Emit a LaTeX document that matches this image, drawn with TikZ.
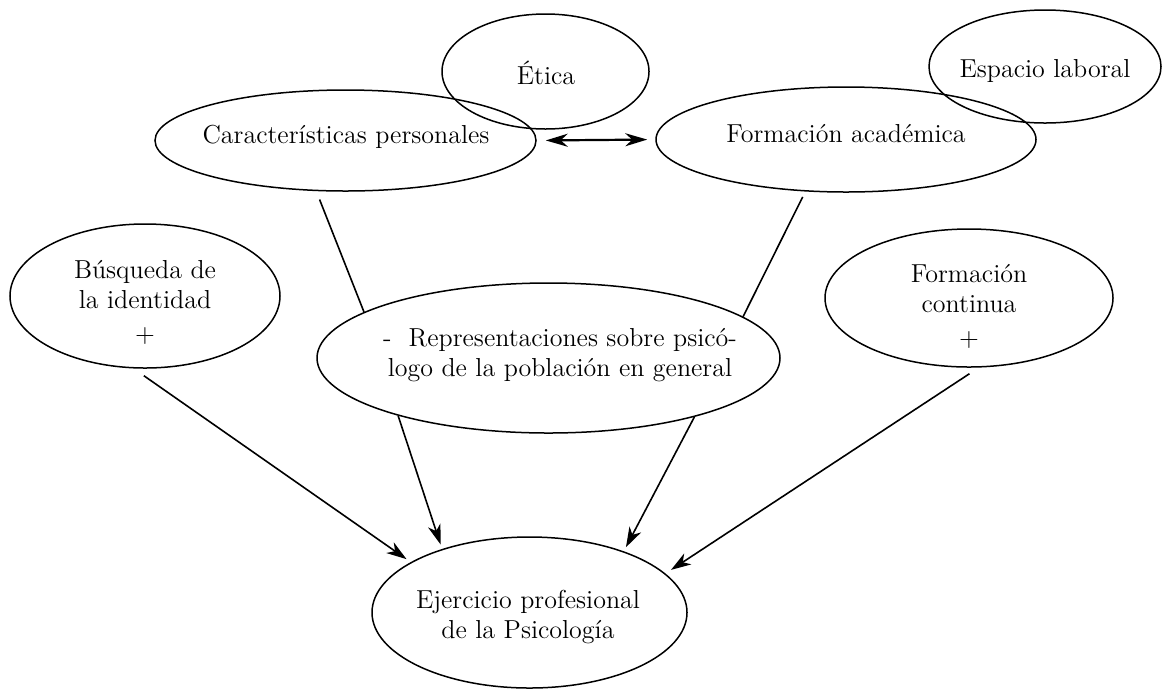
\documentclass[tikz,border=0pt]{standalone}
\usepackage{fontspec}
\usetikzlibrary{arrows.meta,shapes.geometric}
\begin{document}
\begin{tikzpicture}[x=0.5pt,y=-0.5pt,
  ell/.style 2 args={ellipse,draw,line width=0.75pt,inner sep=0pt,minimum width=#1pt,minimum height=#2pt},
  lbl/.style={align=center,inner sep=0pt,font=\fontsize{13}{15}\selectfont},
  link/.style={line width=0.8pt},
  arr/.style={line width=0.8pt,-{Stealth[length=10pt,width=6.5pt,inset=3pt]}},
  dbl/.style={line width=1.1pt,{Stealth[length=11pt,width=6.5pt,inset=3.5pt]}-{Stealth[length=11pt,width=6.5pt,inset=3.5pt]}}]
\useasboundingbox (0,0) rectangle (1165,692);
\fill[white] (0,0) rectangle (1165,692);
% ellipses (minimum width/height in pt = half of pixel size)
\node[ell={103.5}{57.5}] (eti) at (545.5,71.5) {};
\node[ell={116}{56.5}] (esp) at (1045,66.5) {};
\node[ell={190.5}{50.5}] (car) at (345.5,140.5) {};
\node[ell={190}{52.5}] (for) at (846,139.5) {};
\node[ell={135}{72}] (bus) at (145,296) {};
\node[ell={231.5}{75}] (rep) at (548.5,358) {};
\node[ell={144}{69}] (con) at (969,298) {};
\node[ell={157.5}{75.5}] (eje) at (529.5,612.5) {};
% texts
\node[lbl] (etit) at (546,73) {Ética};
\node[lbl] (espt) at (1045,71) {Espacio laboral};
\node[lbl] (cart) at (346,137) {Características personales};
\node[lbl] (fort) at (846,134) {Formación académica};
\node[lbl] (bust) at (145,302) {Búsqueda de\\la identidad\\[2pt]+};
\node[lbl] (rept) at (560,355) {-\ \ Representaciones sobre psicó-\\logo de la población en general};
\node[lbl] (cont) at (969,306) {Formación\\continua\\[2pt]+};
\node[lbl] (ejet) at (528,617) {Ejercicio profesional\\de la Psicología};
% connectors
\draw[link,shorten <=4.5pt] (car.-120.4) -- (rep.166.8);
\draw[link,shorten <=3pt] (for.-128.5) -- (rep.12);
\draw[dbl,shorten <=4.5pt,shorten >=4pt] (car.0) -- (for.180);
\draw[arr,shorten <=6.3pt,shorten >=2.6pt] (bus.-99.8) -- (eje.157.8);
\draw[arr,shorten >=2.4pt] (rep.-159.9) -- (eje.144);
\draw[arr,shorten >=2.3pt] (rep.-22.9) -- (eje.33.5);
\draw[arr,shorten <=5.6pt,shorten >=3.3pt] (con.-82.1) -- (eje.16.3);
\end{tikzpicture}
\end{document}
